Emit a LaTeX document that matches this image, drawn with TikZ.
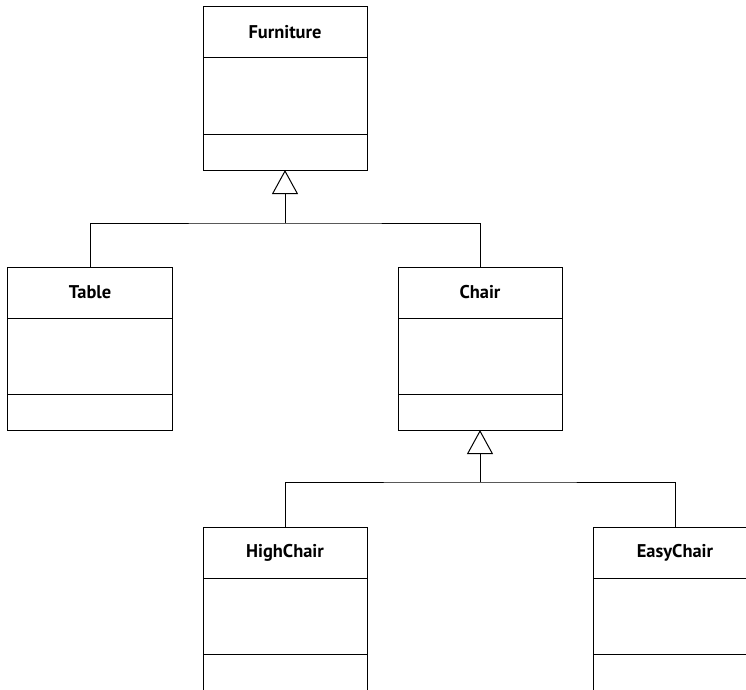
\documentclass[tikz,border=0pt]{standalone}
\usepackage{fontspec}
\setmainfont{PT Sans}
\usetikzlibrary{arrows.meta,positioning}

\begin{document}
\begin{tikzpicture}[
  x=1bp,y=1bp,
  classname/.style={
    draw,
    line width=1bp,
    minimum width=164bp,
    minimum height=51bp,
    inner sep=0pt,
    outer sep=0pt,
    font=\fontsize{18.5}{22}\selectfont\bfseries
  },
  classattr/.style={draw,line width=1bp,minimum width=164bp,minimum height=76bp,inner sep=0pt,outer sep=0pt},
  classops/.style={draw,line width=1bp,minimum width=164bp,minimum height=36bp,inner sep=0pt,outer sep=0pt},
  link/.style={line width=1bp},
  inherit/.style={line width=1bp,-{Triangle[open,length=24bp,width=26bp,line width=1bp]}}
]
  \useasboundingbox (0,0) rectangle (746,-690);
  \clip (0,0) rectangle (746,-690);
  % classes
  \node[classname] (furniture) at (285,-32.5) {Furniture};
  \node[classattr,below=0pt of furniture] (furnitureattr) {};
  \node[classops,below=0pt of furnitureattr] (furnitureops) {};

  \node[classname] (table) at (90,-292.5) {Table};
  \node[classattr,below=0pt of table] (tableattr) {};
  \node[classops,below=0pt of tableattr] (tableops) {};

  \node[classname] (chair) at (480,-292.5) {Chair};
  \node[classattr,below=0pt of chair] (chairattr) {};
  \node[classops,below=0pt of chairattr] (chairops) {};

  \node[classname] (highchair) at (285,-552.5) {HighChair};
  \node[classattr,below=0pt of highchair] (highchairattr) {};
  \node[classops,below=0pt of highchairattr] (highchairops) {};

  \node[classname] (easychair) at (675,-552.5) {EasyChair};
  \node[classattr,below=0pt of easychair] (easychairattr) {};
  \node[classops,below=0pt of easychairattr] (easychairops) {};

  % generalisation
  \coordinate (furniturejoin) at (285,-223);
  \coordinate (chairjoin) at (480,-482);
  \draw[link] (table.north) |- (furniturejoin) -| (chair.north);
  \draw[inherit] (furniturejoin) -- (furnitureops.south);
  \draw[link] (highchair.north) |- (chairjoin) -| (easychair.north);
  \draw[inherit] (chairjoin) -- (chairops.south);
\end{tikzpicture}
\end{document}
